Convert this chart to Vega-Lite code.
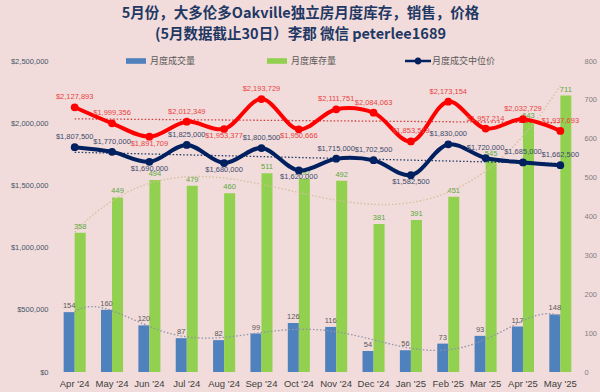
{
  "$schema": "https://vega.github.io/schema/vega-lite/v6.json",
  "width": 523,
  "height": 311,
  "autosize": {"type": "none"},
  "padding": {"left": 56, "top": 61, "right": 21, "bottom": 20},
  "background": "#f2dcdb",
  "config": {
    "view": {"stroke": null},
    "font": "Liberation Sans"
  },
  "title": {
    "text": ["5月份，大多伦多Oakville独立房月度库存，销售，价格", "(5月数据截止30日）李郡 微信 peterlee1689"],
    "font": "Noto Sans CJK SC",
    "fontSize": 14.5,
    "fontWeight": "bold",
    "color": "#1f3864",
    "anchor": "middle",
    "frame": "group",
    "dx": -17,
    "lineHeight": 21,
    "offset": 9
  },
  "data": {
    "values": [
      {"month": "Apr '24", "月度成交量": 154, "月度库存量": 358, "median": 1807500, "average": 2127893},
      {"month": "May '24", "月度成交量": 160, "月度库存量": 449, "median": 1770000, "average": 1999356},
      {"month": "Jun '24", "月度成交量": 120, "月度库存量": 494, "median": 1690000, "average": 1891709},
      {"month": "Jul '24", "月度成交量": 87, "月度库存量": 479, "median": 1825000, "average": 2012349},
      {"month": "Aug '24", "月度成交量": 82, "月度库存量": 460, "median": 1680000, "average": 1953377},
      {"month": "Sep '24", "月度成交量": 99, "月度库存量": 511, "median": 1800500, "average": 2193729},
      {"month": "Oct '24", "月度成交量": 126, "月度库存量": 497, "median": 1620000, "average": 1950666},
      {"month": "Nov '24", "月度成交量": 116, "月度库存量": 492, "median": 1715000, "average": 2111751},
      {"month": "Dec '24", "月度成交量": 54, "月度库存量": 381, "median": 1702500, "average": 2084063},
      {"month": "Jan '25", "月度成交量": 56, "月度库存量": 391, "median": 1582500, "average": 1853519},
      {"month": "Feb '25", "月度成交量": 73, "月度库存量": 451, "median": 1830000, "average": 2173154},
      {"month": "Mar '25", "月度成交量": 93, "月度库存量": 545, "median": 1720000, "average": 1957214},
      {"month": "Apr '25", "月度成交量": 117, "月度库存量": 643, "median": 1685000, "average": 2032729},
      {"month": "May '25", "月度成交量": 148, "月度库存量": 711, "median": 1662500, "average": 1937693}
    ]
  },
  "resolve": {"scale": {"x": "independent", "y": "independent"}},
  "layer": [
    {
      "transform": [{"fold": ["月度成交量", "月度库存量"], "as": ["series", "count"]}],
      "encoding": {
        "x": {
          "field": "month", "type": "nominal", "sort": null,
          "scale": {"paddingInner": 0.41, "paddingOuter": 0.205},
          "axis": {"title": null, "labelAngle": 0, "ticks": false, "domain": false, "labelFontSize": 9.5, "labelColor": "#404040", "labelPadding": 6, "labelFont": "Liberation Sans"}
        },
        "xOffset": {"field": "series", "type": "nominal", "sort": ["月度成交量", "月度库存量"], "scale": {"paddingInner": 0}},
        "y": {
          "field": "count", "type": "quantitative",
          "scale": {"domain": [0, 800], "nice": false},
          "axis": {"orient": "right", "title": null, "values": [0, 100, 200, 300, 400, 500, 600, 700, 800], "grid": false, "ticks": false, "domain": false, "labelFontSize": 7.5, "labelColor": "#7f7f7f", "labelPadding": 5}
        }
      },
      "layer": [
        {
          "mark": {"type": "bar"},
          "encoding": {
            "color": {
              "field": "series", "type": "nominal",
              "scale": {"domain": ["月度成交量", "月度库存量", "月度成交中位价"], "range": ["#4f81bd", "#92d050", "#002060"]},
              "legend": {
                "title": null,
                "orient": "none",
                "legendX": 70,
                "legendY": -10,
                "direction": "horizontal",
                "labelFont": "Noto Sans CJK SC",
                "labelFontSize": 9,
                "labelColor": "#595959",
                "symbolSize": 400,
                "gridAlign": "all",
                "columnPadding": 50,
                "labelOffset": 4,
                "encode": {
                  "symbols": {
                    "update": {
                      "shape": {"signal": "datum.value === '月度成交中位价' ? 'M-1.3,-0.13H1.3V0.13H-1.3Z M0.35,0A0.35,0.35,0,1,1,-0.35,0A0.35,0.35,0,1,1,0.35,0Z' : 'M-1,-0.28H1V0.28H-1Z'"},
                      "fill": {"scale": "color", "field": "value"},
                      "strokeWidth": {"value": 0},
                      "opacity": {"value": 1}
                    }
                  }
                }
              }
            }
          }
        },
        {
          "mark": {"type": "text", "baseline": "bottom", "dy": -2, "fontSize": 7.5},
          "encoding": {
            "text": {"field": "count", "type": "quantitative"},
            "color": {"condition": {"test": "datum.series === '月度成交量'", "value": "#595959"}, "value": "#5aa83c"}
          }
        }
      ]
    },
    {
      "transform": [{"window": [{"op": "row_number", "as": "idx"}]}],
      "encoding": {
        "x": {"field": "idx", "type": "quantitative", "scale": {"domain": [0.5, 14.5], "nice": false, "zero": false}, "axis": null}
      },
      "layer": [
        {
          "transform": [{"regression": "月度成交量", "on": "idx", "method": "poly", "order": 6}],
          "mark": {"type": "line", "strokeDash": [1.5, 2], "strokeWidth": 1.3, "color": "#8e94a8"},
          "encoding": {"y": {"field": "月度成交量", "type": "quantitative", "scale": {"domain": [0, 800], "nice": false}, "axis": null}}
        },
        {
          "transform": [{"regression": "月度库存量", "on": "idx", "method": "poly", "order": 4}],
          "mark": {"type": "line", "strokeDash": [1.5, 2], "strokeWidth": 1.3, "color": "#d3bf9a"},
          "encoding": {"y": {"field": "月度库存量", "type": "quantitative", "scale": {"domain": [0, 800], "nice": false}, "axis": null}}
        }
      ]
    },
    {
      "transform": [{"window": [{"op": "row_number", "as": "idx"}]}],
      "encoding": {
        "x": {"field": "idx", "type": "quantitative", "scale": {"domain": [0.5, 14.5], "nice": false, "zero": false}, "axis": null}
      },
      "layer": [
        {
          "transform": [{"regression": "average", "on": "idx", "method": "linear"}],
          "mark": {"type": "line", "strokeDash": [1.5, 2], "strokeWidth": 1.3, "color": "#d23c3c"},
          "encoding": {"y": {"field": "average", "type": "quantitative", "scale": {"domain": [0, 2500000], "nice": false}, "axis": null}}
        },
        {
          "transform": [{"regression": "median", "on": "idx", "method": "linear"}],
          "mark": {"type": "line", "strokeDash": [1.5, 2], "strokeWidth": 1.3, "color": "#1f3864"},
          "encoding": {"y": {"field": "median", "type": "quantitative", "scale": {"domain": [0, 2500000], "nice": false}, "axis": null}}
        }
      ]
    },
    {
      "encoding": {
        "x": {"field": "month", "type": "nominal", "sort": null, "scale": {"paddingInner": 0.41, "paddingOuter": 0.205}, "axis": null}
      },
      "layer": [
        {
          "mark": {"type": "line", "interpolate": "catmull-rom", "strokeWidth": 4, "color": "#ff0000", "point": {"filled": true, "size": 60, "color": "#ff0000"}},
          "encoding": {
            "y": {
              "field": "average", "type": "quantitative",
              "scale": {"domain": [0, 2500000], "nice": false},
              "axis": {"orient": "left", "title": null, "values": [0, 500000, 1000000, 1500000, 2000000, 2500000], "format": "$,.0f", "grid": false, "ticks": false, "domain": false, "labelFontSize": 7.5, "labelColor": "#44546a", "labelPadding": 8}
            }
          }
        },
        {
          "mark": {"type": "line", "interpolate": "catmull-rom", "strokeWidth": 4, "point": {"filled": true, "size": 60}},
          "encoding": {
            "y": {"field": "median", "type": "quantitative"},
            "color": {"datum": "月度成交中位价"}
          }
        },
        {
          "transform": [{"filter": "indexof([\"Jun '24\",\"Aug '24\",\"Oct '24\"], datum.month) < 0"}],
          "mark": {"type": "text", "baseline": "bottom", "dy": -6, "fontSize": 7.5, "color": "#e8423f"},
          "encoding": {"y": {"field": "average", "type": "quantitative"}, "text": {"field": "average", "type": "quantitative", "format": "$,.0f"}}
        },
        {
          "transform": [{"filter": "indexof([\"Jun '24\",\"Aug '24\",\"Oct '24\"], datum.month) >= 0"}],
          "mark": {"type": "text", "baseline": "top", "dy": 3, "fontSize": 7.5, "color": "#e8423f"},
          "encoding": {"y": {"field": "average", "type": "quantitative"}, "text": {"field": "average", "type": "quantitative", "format": "$,.0f"}}
        },
        {
          "transform": [{"filter": "indexof([\"Jun '24\",\"Aug '24\",\"Oct '24\",\"Jan '25\"], datum.month) < 0"}],
          "mark": {"type": "text", "baseline": "bottom", "dy": -6, "fontSize": 7.5, "color": "#3b4a6b"},
          "encoding": {"y": {"field": "median", "type": "quantitative"}, "text": {"field": "median", "type": "quantitative", "format": "$,.0f"}}
        },
        {
          "transform": [{"filter": "indexof([\"Jun '24\",\"Aug '24\",\"Oct '24\",\"Jan '25\"], datum.month) >= 0"}],
          "mark": {"type": "text", "baseline": "top", "dy": 3, "fontSize": 7.5, "color": "#3b4a6b"},
          "encoding": {"y": {"field": "median", "type": "quantitative"}, "text": {"field": "median", "type": "quantitative", "format": "$,.0f"}}
        }
      ]
    }
  ]
}
